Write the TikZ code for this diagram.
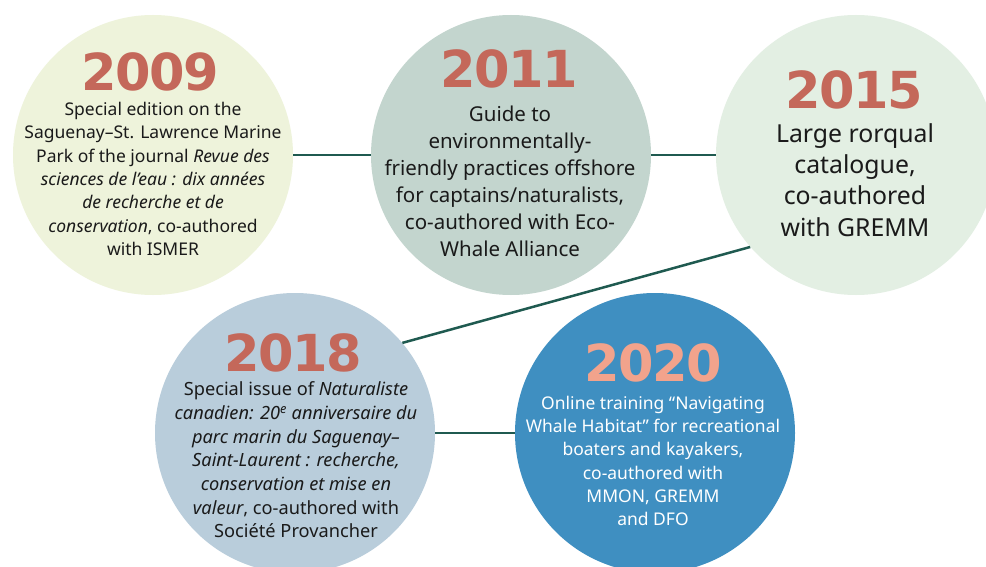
\documentclass[tikz,border=0pt]{standalone}
\usepackage{fontspec}
\setmainfont{Noto Sans}
\newfontfamily\yearfont[LetterSpace=-3]{DejaVu Sans}
\definecolor{yearred}{HTML}{C4685A}
\definecolor{salmon}{HTML}{F2A38C}
\definecolor{cA}{HTML}{EEF3DB}
\definecolor{cB}{HTML}{C3D5CE}
\definecolor{cC}{HTML}{E3EFE3}
\definecolor{cD}{HTML}{B9CDDB}
\definecolor{cE}{HTML}{3F8FC1}
\definecolor{linkc}{HTML}{1F5A50}
\definecolor{ink}{HTML}{1A1A1A}
\begin{document}
\begin{tikzpicture}[x=1pt,y=-1pt,
  disc/.style={circle,minimum size=280pt,inner sep=0pt,draw=none},
  yr/.style={font=\yearfont\bfseries\fontsize{51}{51}\selectfont, text=yearred, inner sep=0pt},
  body/.style={align=center, inner sep=0pt, text=ink},
  link/.style={draw=linkc, line width=2.5pt}]
\clip (0,0) rectangle (986,567);
\fill[white] (0,0) rectangle (986,567);
\node[disc,fill=cA] (c1) at (153,155) {};
\node[disc,fill=cB] (c2) at (511,155) {};
\node[disc,fill=cC] (c3) at (856,155) {};
\node[disc,fill=cD] (c4) at (295,433) {};
\node[disc,fill=cE] (c5) at (655,433) {};
\draw[link] (c1) -- (c2);
\draw[link] (c2) -- (c3);
\draw[link] (c3.221) -- (c4.40);
\draw[link] (c4) -- (c5);
\node[yr] (y1) at (150,72) {2009};
\node[yr] (y2) at (509,69) {2011};
\node[yr] (y3) at (854,90) {2015};
\node[yr] (y4) at (293,353) {2018};
\node[yr,text=salmon] (y5) at (653,363) {2020};
\node[body,font=\fontsize{17.5}{23.3}\selectfont] (t1) at (153,179) {Special edition on the\\Saguenay--St. Lawrence Marine\\Park of the journal \textit{Revue des}\\\textit{sciences de l’eau : dix années}\\\textit{de recherche et de}\\\textit{conservation}, co-authored\\with ISMER};
\node[body,font=\fontsize{20.5}{27}\selectfont] (t2) at (510,181) {Guide to\\environmentally-\\friendly practices offshore\\for captains/naturalists,\\co-authored with Eco-\\Whale Alliance};
\node[body,font=\fontsize{24.8}{31.3}\selectfont] (t3) at (855,180) {Large rorqual\\catalogue,\\co-authored\\with GREMM};
\node[body,font=\fontsize{18.2}{23.7}\selectfont] (t4) at (296,460) {Special issue of \textit{Naturaliste}\\\textit{canadien: 20\textsuperscript{e} anniversaire du}\\\textit{parc marin du Saguenay--}\\\textit{Saint-Laurent : recherche,}\\\textit{conservation et mise en}\\\textit{valeur}, co-authored with\\Société Provancher};
\node[body,text=white,font=\fontsize{17.5}{23.2}\selectfont] (t5) at (653,461) {Online training “Navigating\\Whale Habitat” for recreational\\boaters and kayakers,\\co-authored with\\MMON, GREMM\\and DFO};
\end{tikzpicture}
\end{document}
